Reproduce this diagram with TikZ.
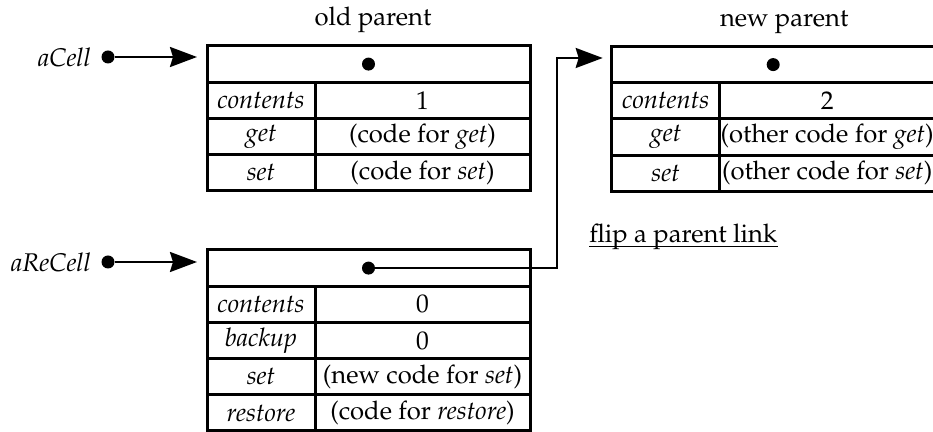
\documentclass[tikz,border=0pt]{standalone}
\usepackage[T1]{fontenc}
\usepackage{mathpazo}
\usetikzlibrary{positioning,arrows.meta}

\tikzset{
  cell/.style={draw, line width=1.5pt, outer sep=0pt, inner sep=0pt, minimum height=18.1pt},
  hdr/.style={cell, minimum width=161.5pt},
  key/.style={cell, minimum width=54pt},
  val/.style={cell, minimum width=107.5pt},
  dotmark/.style={circle, fill, inner sep=0pt, minimum size=6.5pt},
  ptr/.style={line width=1.2pt, -{Stealth[length=13.5pt, width=10pt, inset=1.5pt]}},
}

\begin{document}
\begin{tikzpicture}[x=0.5pt, y=-0.5pt, every node/.style={font=\fontsize{12.8pt}{15pt}\selectfont}]
\useasboundingbox (0,0) rectangle (933,432);

% old parent
\node[hdr] (old) at (368.5,64.1) {};
\node[dotmark] (olddot) at (old) {};
\node[above=3pt of old, xshift=2.25pt] (oldlbl) {old parent};
\foreach \k/\v [count=\i] in {contents/1, get/{(code for \emph{get})}, set/{(code for \emph{set})}} {
  \node[key, anchor=north west] (oldk\i) at ([yshift={-18.1pt*(\i-1)}] old.south west) {\emph{\k}};
  \node[val, right=0pt of oldk\i] (oldv\i) {\v};
}

% new parent
\node[hdr] (new) at (773.2,64.6) {};
\node[dotmark] (newdot) at (new) {};
\node[above=3pt of new, xshift=5.5pt] (newlbl) {new parent};
\foreach \k/\v [count=\i] in {contents/2, get/{(other code for \emph{get})}, set/{(other code for \emph{set})}} {
  \node[key, anchor=north west] (newk\i) at ([yshift={-18.1pt*(\i-1)}] new.south west) {\emph{\k}};
  \node[val, right=0pt of newk\i] (newv\i) {\v};
}

% the recell
\node[hdr] (re) at (368.5,268.1) {};
\node[dotmark] (redot) at (re) {};
\foreach \k/\v [count=\i] in {contents/0, backup/0, set/{(new code for \emph{set})}, restore/{(code for \emph{restore})}} {
  \node[key, anchor=north west] (rek\i) at ([yshift={-18.1pt*(\i-1)}] re.south west) {\emph{\k}};
  \node[val, right=0pt of rek\i] (rev\i) {\v};
}

% variables
\node[dotmark] (celldot) at (108,57) {};
\node[left=5pt of celldot, inner sep=0pt] (cell) {\emph{aCell}};
\draw[ptr, shorten >=5pt] (celldot) -- (celldot -| old.west);
\node[dotmark] (recelldot) at (108,262) {};
\node[left=5pt of recelldot, inner sep=0pt] (recell) {\emph{aReCell}};
\draw[ptr, shorten >=5pt] (recelldot) -- (recelldot -| re.west);

% parent link
\coordinate (bend) at (556.7,58);
\draw[ptr, shorten >=4.5pt] (redot.center) -| (bend) -- (bend -| new.west);
\node[anchor=base west, inner sep=0pt] (flip) at (589,243) {flip a parent link};
\draw[line width=0.5pt] ([yshift=-2pt] flip.base west) -- ([yshift=-2pt] flip.base east);
\end{tikzpicture}
\end{document}
